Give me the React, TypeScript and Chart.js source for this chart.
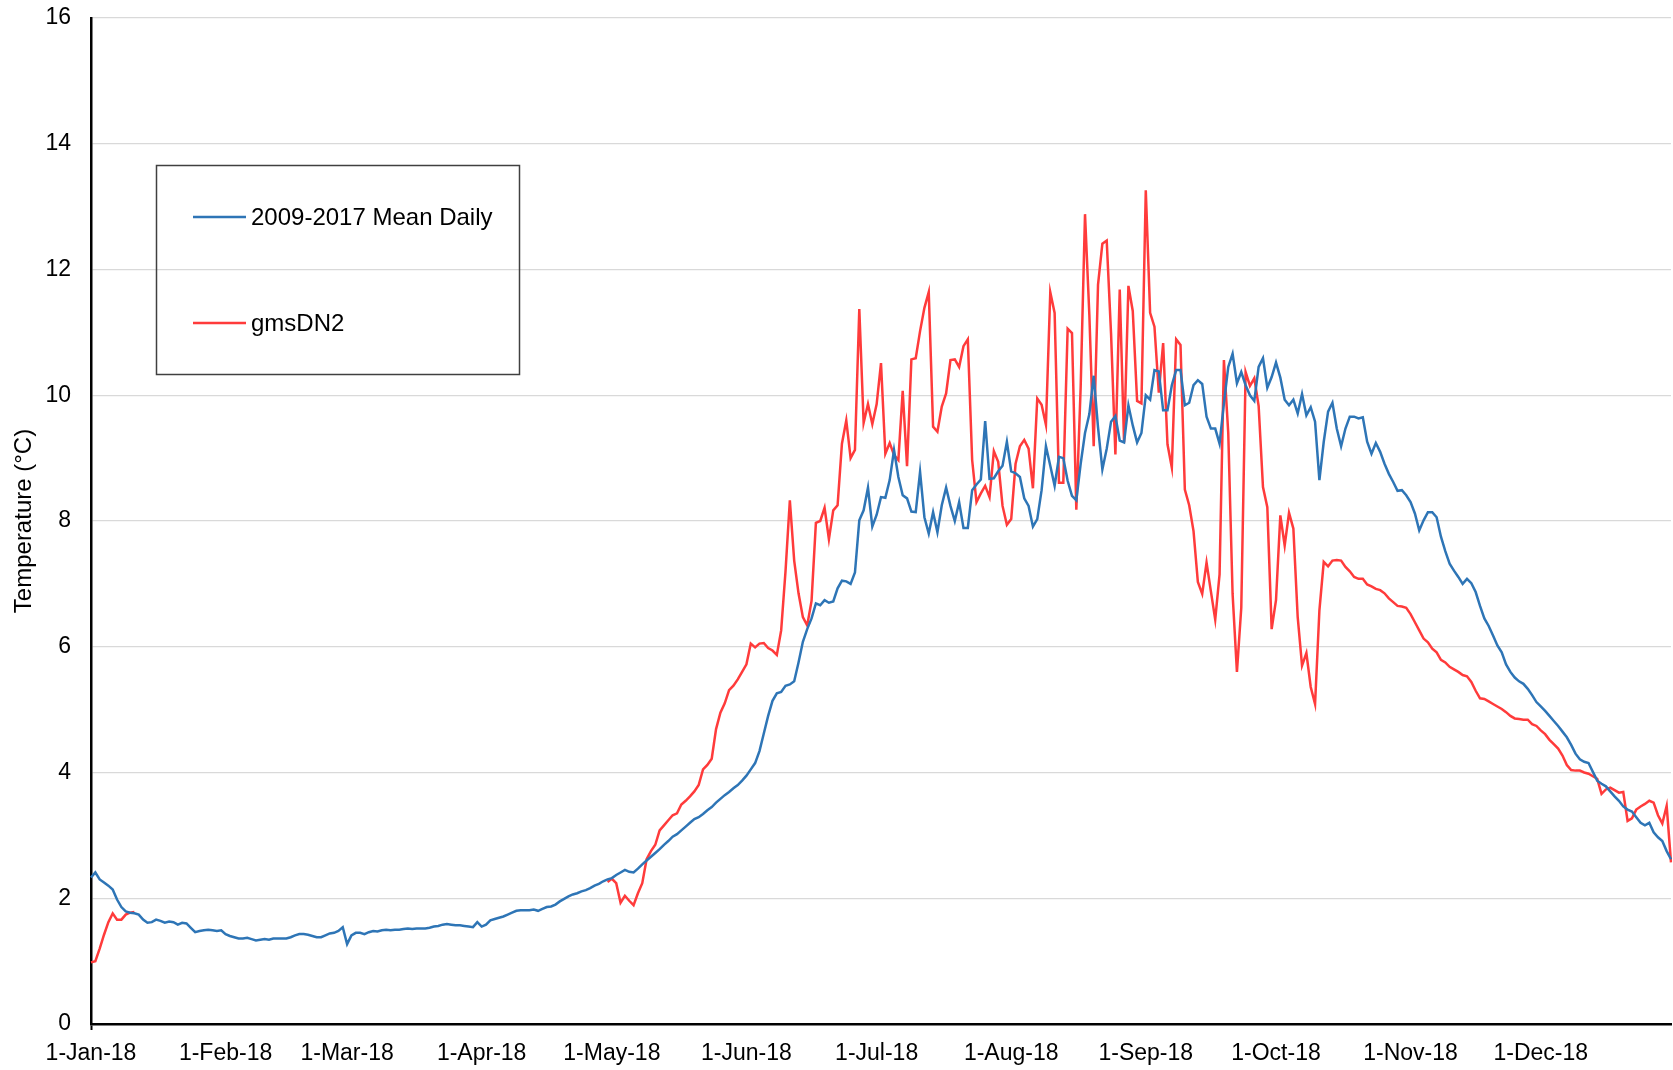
import React, { useEffect, useRef } from 'react';
import { Chart, registerables } from 'chart.js';

Chart.register(...registerables);

const FONT = "'Liberation Sans', Arial, Helvetica, sans-serif";

// x axis: daily categories for 2018
const YEAR_START = Date.UTC(2018, 0, 1);
const DAY_COUNT = 365;
const MONTH_TICK_DAYS = [0, 31, 59, 90, 120, 151, 181, 212, 243, 273, 304, 334];
const MONTH_TICK_LABELS = [
  '1-Jan-18', '1-Feb-18', '1-Mar-18', '1-Apr-18', '1-May-18', '1-Jun-18',
  '1-Jul-18', '1-Aug-18', '1-Sep-18', '1-Oct-18', '1-Nov-18', '1-Dec-18',
];

const SERIES_LABELS = ['2009-2017 Mean Daily', 'gmsDN2'];

// 2009-2017 Mean Daily (one value per day, 1 Jan .. 31 Dec)
const MEAN_DAILY = [
  2.33, 2.41, 2.30, 2.25, 2.20, 2.14, 1.98, 1.86, 1.79, 1.77,
  1.76, 1.74, 1.66, 1.61, 1.62, 1.66, 1.64, 1.61, 1.63, 1.62,
  1.58, 1.61, 1.60, 1.53, 1.46, 1.48, 1.49, 1.50, 1.49, 1.48,
  1.49, 1.43, 1.40, 1.38, 1.36, 1.36, 1.37, 1.35, 1.33, 1.34,
  1.35, 1.34, 1.36, 1.36, 1.36, 1.36, 1.38, 1.41, 1.43, 1.43,
  1.42, 1.40, 1.38, 1.38, 1.41, 1.44, 1.45, 1.48, 1.54, 1.27,
  1.41, 1.45, 1.45, 1.43, 1.46, 1.48, 1.47, 1.49, 1.50, 1.49,
  1.50, 1.50, 1.51, 1.52, 1.51, 1.52, 1.52, 1.52, 1.53, 1.55,
  1.56, 1.58, 1.59, 1.58, 1.57, 1.57, 1.56, 1.55, 1.54, 1.62,
  1.55, 1.58, 1.65, 1.67, 1.69, 1.71, 1.74, 1.77, 1.80, 1.81,
  1.81, 1.81, 1.82, 1.80, 1.83, 1.86, 1.87, 1.90, 1.95, 1.99,
  2.03, 2.06, 2.08, 2.11, 2.13, 2.16, 2.20, 2.23, 2.27, 2.30,
  2.32, 2.37, 2.41, 2.45, 2.42, 2.41, 2.47, 2.54, 2.60, 2.66,
  2.72, 2.78, 2.85, 2.91, 2.98, 3.02, 3.08, 3.14, 3.20, 3.26,
  3.29, 3.34, 3.40, 3.45, 3.52, 3.58, 3.64, 3.69, 3.75, 3.80,
  3.87, 3.95, 4.05, 4.15, 4.34, 4.62, 4.90, 5.14, 5.26, 5.28,
  5.38, 5.40, 5.45, 5.75, 6.08, 6.28, 6.45, 6.69, 6.66, 6.74,
  6.70, 6.72, 6.93, 7.05, 7.04, 7.00, 7.18, 8.01, 8.17, 8.53,
  7.91, 8.10, 8.38, 8.37, 8.65, 9.13, 8.70, 8.41, 8.36, 8.15,
  8.14, 8.78, 8.06, 7.80, 8.14, 7.82, 8.25, 8.53, 8.24, 8.00,
  8.30, 7.89, 7.89, 8.49, 8.58, 8.66, 9.59, 8.67, 8.68, 8.79,
  8.88, 9.26, 8.79, 8.76, 8.70, 8.36, 8.24, 7.91, 8.03, 8.49,
  9.19, 8.88, 8.56, 9.02, 9.00, 8.64, 8.40, 8.33, 8.91, 9.40,
  9.70, 10.31, 9.49, 8.82, 9.15, 9.58, 9.67, 9.28, 9.25, 9.84,
  9.52, 9.25, 9.40, 10.00, 9.93, 10.40, 10.38, 9.76, 9.76, 10.16,
  10.40, 10.40, 9.84, 9.88, 10.16, 10.24, 10.18, 9.66, 9.47, 9.47,
  9.23, 9.87, 10.45, 10.66, 10.19, 10.37, 10.16, 10.00, 9.91, 10.45,
  10.59, 10.12, 10.29, 10.52, 10.28, 9.93, 9.84, 9.93, 9.71, 10.02,
  9.68, 9.81, 9.58, 8.65, 9.26, 9.74, 9.88, 9.47, 9.19, 9.47,
  9.66, 9.66, 9.63, 9.65, 9.26, 9.07, 9.24, 9.10, 8.91, 8.75,
  8.62, 8.48, 8.49, 8.41, 8.30, 8.12, 7.85, 8.01, 8.14, 8.14,
  8.06, 7.75, 7.52, 7.32, 7.21, 7.11, 7.00, 7.08, 7.01, 6.87,
  6.65, 6.45, 6.33, 6.18, 6.02, 5.91, 5.72, 5.60, 5.51, 5.45,
  5.41, 5.33, 5.23, 5.12, 5.05, 4.98, 4.90, 4.82, 4.74, 4.65,
  4.56, 4.44, 4.30, 4.21, 4.17, 4.15, 4.01, 3.87, 3.82, 3.78,
  3.70, 3.62, 3.55, 3.46, 3.41, 3.38, 3.29, 3.20, 3.16, 3.20,
  3.05, 2.97, 2.91, 2.75, 2.62,
];

// gmsDN2: 1-11 Jan, then a gap, resuming 30 Apr
const GMS_JAN = [0.98, 1.00, 1.20, 1.42, 1.62, 1.76, 1.66, 1.66, 1.74, 1.77, 1.78];
const GMS_RESUME_DAY = 119;
const GMS_LATE = [
  2.26, 2.31, 2.24, 1.93, 2.04, 1.96, 1.89, 2.08, 2.24, 2.62,
  2.75, 2.85, 3.08, 3.16, 3.24, 3.32, 3.35, 3.49, 3.55, 3.62,
  3.70, 3.80, 4.05, 4.12, 4.22, 4.69, 4.95, 5.10, 5.31, 5.38,
  5.48, 5.60, 5.72, 6.05, 5.99, 6.05, 6.06, 5.98, 5.94, 5.87,
  6.26, 7.20, 8.33, 7.37, 6.85, 6.47, 6.34, 6.73, 7.97, 8.00,
  8.21, 7.71, 8.17, 8.25, 9.23, 9.60, 9.00, 9.13, 11.37, 9.56,
  9.86, 9.54, 9.86, 10.51, 9.07, 9.24, 9.05, 8.97, 10.07, 8.87,
  10.57, 10.59, 11.02, 11.39, 11.64, 9.50, 9.42, 9.82, 10.03, 10.56,
  10.57, 10.45, 10.78, 10.89, 8.97, 8.30, 8.44, 8.56, 8.38, 9.11,
  8.94, 8.24, 7.94, 8.03, 8.91, 9.19, 9.29, 9.15, 8.52, 9.95,
  9.85, 9.53, 11.64, 11.31, 8.61, 8.61, 11.06, 10.99, 8.18, 10.13,
  12.88, 11.28, 9.19, 11.76, 12.41, 12.46, 10.98, 9.06, 11.68, 9.25,
  11.74, 11.34, 9.91, 9.87, 13.26, 11.31, 11.09, 10.04, 10.83, 9.22,
  8.85, 10.89, 10.80, 8.50, 8.25, 7.84, 7.03, 6.84, 7.34, 6.88,
  6.43, 7.15, 10.56, 9.40, 6.84, 5.60, 6.62, 10.37, 10.15, 10.27,
  9.83, 8.54, 8.22, 6.28, 6.74, 8.09, 7.61, 8.13, 7.88, 6.47,
  5.70, 5.90, 5.36, 5.09, 6.58, 7.35, 7.28, 7.37, 7.38, 7.37,
  7.27, 7.20, 7.11, 7.08, 7.08, 6.99, 6.96, 6.92, 6.90, 6.85,
  6.77, 6.71, 6.65, 6.64, 6.62, 6.52, 6.39, 6.26, 6.13, 6.07,
  5.97, 5.91, 5.79, 5.75, 5.68, 5.64, 5.60, 5.55, 5.53, 5.44,
  5.30, 5.18, 5.17, 5.13, 5.09, 5.05, 5.01, 4.96, 4.90, 4.86,
  4.85, 4.84, 4.84, 4.77, 4.74, 4.67, 4.61, 4.52, 4.45, 4.38,
  4.27, 4.12, 4.04, 4.03, 4.03, 4.00, 3.98, 3.94, 3.90, 3.66,
  3.73, 3.76, 3.72, 3.68, 3.69, 3.23, 3.27, 3.41, 3.46, 3.50,
  3.55, 3.52, 3.32, 3.19, 3.47, 2.57,
];

const Y_MIN = 0;
const Y_MAX = 16;
const Y_STEP = 2;

const DAYS = Array.from({ length: DAY_COUNT }, (_, i) =>
  new Date(YEAR_START + i * 86400000).toISOString().slice(0, 10)
);
const GMS = [
  ...GMS_JAN,
  ...Array(GMS_RESUME_DAY - GMS_JAN.length).fill(null),
  ...GMS_LATE,
];

const BLUE = '#2E75B6';
const RED = '#FF3B3B';

const legendBoxPlugin = {
  id: 'legendBox',
  afterDraw(chart: any) {
    const ctx = chart.ctx;
    ctx.save();
    ctx.strokeStyle = '#404040';
    ctx.lineWidth = 1.5;
    ctx.strokeRect(156.5, 165.5, 363, 209);
    const rows = [
      { lineY: 217, textY: 225 },
      { lineY: 323, textY: 331 },
    ];
    chart.data.datasets.forEach((ds: any, i: number) => {
      const r = rows[i];
      ctx.strokeStyle = ds.borderColor;
      ctx.lineWidth = 2.5;
      ctx.beginPath();
      ctx.moveTo(193, r.lineY);
      ctx.lineTo(246, r.lineY);
      ctx.stroke();
      ctx.fillStyle = '#000';
      ctx.font = `24px ${FONT}`;
      ctx.textBaseline = 'alphabetic';
      ctx.textAlign = 'left';
      ctx.fillText(ds.label, 251, r.textY);
    });
    ctx.restore();
  },
};

export default function App() {
  const ref = useRef<HTMLCanvasElement | null>(null);

  useEffect(() => {
    document.body.style.margin = '0';
    const canvas = ref.current;
    if (!canvas) return;
    const isMonthTick = (i: number) => MONTH_TICK_DAYS.indexOf(i) >= 0;
    const chart = new Chart(canvas, {
      type: 'line',
      data: {
        labels: DAYS,
        datasets: [
          {
            label: SERIES_LABELS[0],
            data: MEAN_DAILY,
            borderColor: BLUE,
            backgroundColor: BLUE,
            borderWidth: 2.5,
            pointRadius: 0,
            tension: 0,
            spanGaps: false,
          },
          {
            label: SERIES_LABELS[1],
            data: GMS,
            borderColor: RED,
            backgroundColor: RED,
            borderWidth: 2.5,
            pointRadius: 0,
            tension: 0,
            spanGaps: false,
          },
        ],
      },
      options: {
        responsive: false,
        animation: false,
        layout: { padding: { top: 18, right: 2, left: 0, bottom: 0 } },
        plugins: {
          legend: { display: false },
          tooltip: { enabled: false },
        },
        scales: {
          x: {
            type: 'category',
            afterFit: (scale: any) => {
              scale.height = 46;
            },
            border: { display: true, color: '#000', width: 2.5 },
            grid: {
              drawOnChartArea: false,
              drawTicks: true,
              tickLength: 6,
              tickWidth: 2,
              tickColor: (c: any) => (isMonthTick(c.index) ? '#000' : 'rgba(0,0,0,0)'),
              color: (c: any) => (isMonthTick(c.index) ? '#000' : 'rgba(0,0,0,0)'),
            },
            ticks: {
              autoSkip: false,
              maxRotation: 0,
              minRotation: 0,
              padding: 10,
              color: '#000',
              font: { size: 23, family: FONT },
              callback: (_v: any, index: number) => {
                const k = MONTH_TICK_DAYS.indexOf(index);
                return k >= 0 ? MONTH_TICK_LABELS[k] : null;
              },
            },
          },
          y: {
            min: Y_MIN,
            max: Y_MAX,
            afterFit: (scale: any) => {
              scale.width = 91;
            },
            border: { display: true, color: '#000', width: 2.5 },
            grid: {
              color: '#d9d9d9',
              lineWidth: 1.3,
              drawTicks: true,
              tickLength: 20,
              tickColor: 'rgba(0,0,0,0)',
            },
            ticks: {
              stepSize: Y_STEP,
              padding: 0,
              color: '#000',
              font: { size: 23, family: FONT },
            },
            title: {
              display: true,
              text: 'Temperature (°C)',
              color: '#000',
              font: { size: 24, family: FONT },
              padding: { top: 10, bottom: 0 },
            },
          },
        },
      } as any,
      plugins: [legendBoxPlugin],
    });
    return () => chart.destroy();
  }, []);

  return (
    <div style={{ width: 1673, height: 1070 }}>
      <canvas ref={ref} width={1673} height={1070} style={{ display: 'block' }} />
    </div>
  );
}
